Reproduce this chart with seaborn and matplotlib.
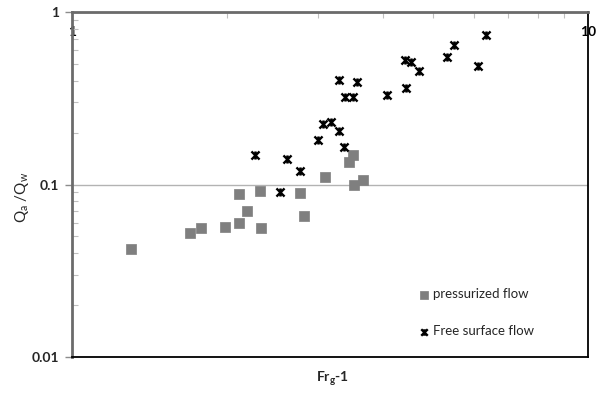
import matplotlib
matplotlib.use("Agg")
import matplotlib.pyplot as plt
import seaborn as sns
import pandas as pd
from matplotlib.path import Path
from matplotlib.ticker import FixedLocator, FixedFormatter, LogLocator, NullFormatter

# Data
press_x = [1.30, 1.69, 1.78, 1.98, 2.11, 2.11, 2.18, 2.32, 2.31, 2.77, 2.82, 3.09, 3.44, 3.50, 3.52, 3.66]
press_y = [0.0423, 0.0523, 0.056, 0.0567, 0.0598, 0.0881, 0.0702, 0.056, 0.0917, 0.0893, 0.0657, 0.1105, 0.135, 0.148, 0.100, 0.1062]

free_x = [2.26, 2.61, 2.77, 2.53, 3.00, 3.06, 3.18, 3.29, 3.37, 3.29, 3.57, 3.38, 3.50,
          4.08, 4.44, 4.42, 4.54, 4.70, 5.33, 5.50, 6.12, 6.34]
free_y = [0.148, 0.141, 0.120, 0.0905, 0.181, 0.224, 0.230, 0.204, 0.165, 0.404, 0.393, 0.322, 0.322,
          0.330, 0.363, 0.527, 0.513, 0.455, 0.548, 0.644, 0.486, 0.736]

x_ticks = [1, 10]
x_tick_labels = ["1", "10"]
y_ticks = [0.01, 0.1, 1]
y_tick_labels = ["0.01", "0.1", "1"]

press_df = pd.DataFrame({"x": press_x, "y": press_y})
free_df = pd.DataFrame({"x": free_x, "y": free_y})

sns.set_style("white")
plt.rcParams["font.family"] = ["Lato", "DejaVu Sans"]
plt.rcParams["mathtext.fontset"] = "custom"
plt.rcParams["mathtext.rm"] = "Lato"
plt.rcParams["mathtext.it"] = "Lato"
plt.rcParams["mathtext.bf"] = "Lato:bold"

fig = plt.figure(figsize=(6.0, 3.93), dpi=100)
ax = fig.add_axes([72/600, 1-357/393, (588-72)/600, (357-12)/393])

star = Path([(-1, -1), (1, 1), (-1, 1), (1, -1), (0, -1), (0, 1)],
            [Path.MOVETO, Path.LINETO, Path.MOVETO, Path.LINETO, Path.MOVETO, Path.LINETO])

sns.scatterplot(data=press_df, x="x", y="y", ax=ax, marker="s", s=42, color="#7f7f7f",
                edgecolor="#7f7f7f", linewidth=0.5, label="pressurized flow", zorder=3)
sns.scatterplot(data=free_df, x="x", y="y", ax=ax, marker=star, s=34, color="black",
                edgecolor="black", linewidth=1.7, label="Free surface flow", zorder=3)

ax.set_xscale("log")
ax.set_yscale("log")
ax.set_xlim(1, 10)
ax.set_ylim(0.01, 1)

# x axis: top, labels inside below the top line
ax.xaxis.set_major_locator(FixedLocator(x_ticks))
ax.xaxis.set_major_formatter(FixedFormatter(x_tick_labels))
ax.xaxis.set_minor_locator(LogLocator(base=10, subs=range(2, 10)))
ax.xaxis.set_minor_formatter(NullFormatter())
ax.tick_params(axis="x", which="both", top=True, bottom=False, labeltop=True, labelbottom=False,
               direction="in", color="#bfbfbf")
ax.tick_params(axis="x", which="major", length=0, pad=-19, labelsize=10, labelcolor="black")
ax.tick_params(axis="x", which="minor", length=4, width=0.8)
for t in ax.get_xticklabels():
    t.set_fontweight("bold")

# y axis
ax.yaxis.set_major_locator(FixedLocator(y_ticks))
ax.yaxis.set_major_formatter(FixedFormatter(y_tick_labels))
ax.yaxis.set_minor_locator(LogLocator(base=10, subs=range(2, 10)))
ax.yaxis.set_minor_formatter(NullFormatter())
ax.tick_params(axis="y", which="major", left=True, direction="out", length=5, width=1,
               color="#8c8c8c", labelsize=10, pad=4)
ax.tick_params(axis="y", which="minor", left=True, direction="in", length=4, width=0.8, color="#bfbfbf")
for t in ax.get_yticklabels():
    t.set_fontweight("bold")

ax.yaxis.grid(True, which="major", color="#b3b3b3", linewidth=1)
ax.xaxis.grid(False)
ax.set_axisbelow(True)

for side in ["left", "top"]:
    ax.spines[side].set_color("#6b6b6b")
    ax.spines[side].set_linewidth(2)
for side in ["right", "bottom"]:
    ax.spines[side].set_color("black")
    ax.spines[side].set_linewidth(1.3)

ax.set_xlabel(r"Fr$_\mathbf{g}$-1", fontsize=10, fontweight="bold")
ax.xaxis.set_label_coords((332-72)/516, -(369-357)/345)
ax.set_ylabel(r"Q$_a$ /Q$_w$", fontsize=11)
ax.yaxis.set_label_coords(-(72-31)/516, (357-197)/345)

leg = ax.legend(loc="upper left", bbox_to_anchor=((412-72)/516, (357-283)/345), frameon=False,
                fontsize=9.5, handletextpad=0.2, labelspacing=1.9, handlelength=1.0,
                borderaxespad=0, markerscale=0.8)

fig.savefig("out.png", dpi=100)
